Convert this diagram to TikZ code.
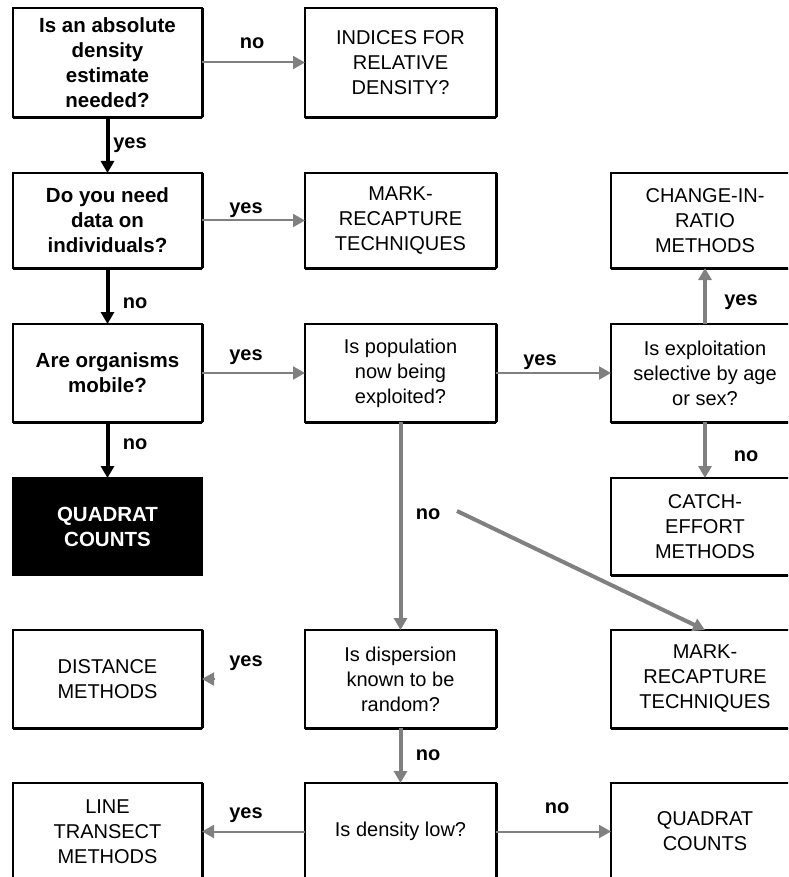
\documentclass[tikz,border=0pt]{standalone}
\usepackage{fontspec}
\setmainfont{Liberation Sans}
\usepackage{xcolor}
\usetikzlibrary{arrows.meta, positioning}
\definecolor{linegray}{RGB}{128,128,128}

\begin{document}
\begin{tikzpicture}[x=1pt, y=-1pt, >={Triangle[length=12pt, width=13pt]}]
    \tikzstyle{box} = [draw, line width=1.5pt, outer sep=0pt, inner sep=0pt, minimum height=97pt, minimum width=189pt, text centered, align=center, font=\fontsize{20}{25}\selectfont]
    \tikzstyle{question} = [box, font=\fontsize{20.5}{25}\selectfont\bfseries]
    \tikzstyle{method} = [box]
    \tikzstyle{answer} = [inner sep=0pt, font=\fontsize{20}{20}\selectfont\bfseries]
    \tikzstyle{blackarrow} = [->, line width=4pt, black]
    \tikzstyle{grayarrow} = [->, line width=2pt, linegray]
    \tikzstyle{thickgray} = [->, line width=4pt, linegray]

    \useasboundingbox (0,0) rectangle (788,877);
    \clip (0,0) rectangle (788,877);

    % first column
    \node [question, minimum height=109pt] at (107.5,62.5) (absolute) {Is an absolute\\density\\estimate\\needed?};
    \node [question, minimum height=95pt] at (107.5,220.5) (individuals) {Do you need\\data on\\individuals?};
    \node [question, minimum height=98pt] at (107.5,373) (mobile) {Are organisms\\mobile?};
    \node [question, fill=black, text=white] at (107.5,526.5) (quadrat) {QUADRAT\\COUNTS};
    \node [method, minimum height=98pt] at (107.5,679) (distance) {DISTANCE\\METHODS};
    \node [method] at (107.5,831.5) (transect) {LINE\\TRANSECT\\METHODS};

    % second column
    \node [method, minimum width=191pt, minimum height=109pt] at (400.5,62.5) (indices) {INDICES FOR\\RELATIVE\\DENSITY?};
    \node [method, minimum width=191pt, minimum height=95pt] at (400.5,220.5) (markone) {MARK-\\RECAPTURE\\TECHNIQUES};
    \node [method, minimum width=191pt, minimum height=98pt] at (400.5,373) (exploited) {Is population\\now being\\exploited?};
    \node [method, minimum width=191pt, minimum height=98pt] at (400.5,679) (random) {Is dispersion\\known to be\\random?};
    \node [method, minimum width=191pt] at (400.5,831.5) (low) {Is density low?};

    % third column
    \node [method, minimum width=188pt, minimum height=95pt] at (705,220.5) (ratio) {CHANGE-IN-\\RATIO\\METHODS};
    \node [method, minimum width=188pt, minimum height=98pt] at (705,373) (selective) {Is exploitation\\selective by age\\or sex?};
    \node [method, minimum width=188pt] at (705,526.5) (effort) {CATCH-\\EFFORT\\METHODS};
    \node [method, minimum width=188pt, minimum height=98pt] at (705,679) (marktwo) {MARK-\\RECAPTURE\\TECHNIQUES};
    \node [method, minimum width=188pt] at (705,831.5) (quadrattwo) {QUADRAT\\COUNTS};

    % heavier bottom and right edges
    \foreach \n in {absolute, individuals, mobile, distance, transect, indices, markone, exploited, random, low, ratio, selective, effort, marktwo, quadrattwo}
        \draw [line width=4pt] ([yshift=-1pt]\n.south west) -- ([yshift=-1pt]\n.south east)
              [line width=2.5pt] ([xshift=0.5pt]\n.south east) -- ([xshift=0.5pt]\n.north east);

    \draw [blackarrow] (absolute) -- (individuals);
    \draw [blackarrow] (individuals) -- (mobile);
    \draw [blackarrow] (mobile) -- (quadrat);
    \draw [grayarrow] (absolute) -- (indices);
    \draw [grayarrow] (individuals) -- (markone);
    \draw [grayarrow] (mobile) -- (exploited);
    \draw [grayarrow] (exploited) -- (selective);
    \draw [thickgray] (selective) -- (ratio);
    \draw [thickgray] (selective) -- (effort);
    \draw [thickgray] (exploited) -- (random);
    \draw [thickgray] (random) -- (low);
    \draw [grayarrow] (low) -- (transect);
    \draw [grayarrow] (low) -- (quadrattwo);
    \coordinate (diagstart) at (457,511);
    \draw [thickgray] (diagstart) -- (marktwo.north);
    \coordinate (yesstub) at (215,679);
    \draw [grayarrow] (yesstub) -- (distance);

    % answers
    \node [answer] at (252,43) (noindices) {no};
    \node [answer] at (130,145) (yesabsolute) {yes};
    \node [answer] at (246,210) (yesmark) {yes};
    \node [answer] at (135,303) (noindividuals) {no};
    \node [answer] at (246,357) (yesmobile) {yes};
    \node [answer] at (135,444) (nomobile) {no};
    \node [answer] at (540,362) (yesexploited) {yes};
    \node [answer] at (741,302) (yesselective) {yes};
    \node [answer] at (746,456) (noselective) {no};
    \node [answer] at (428,514) (noexploited) {no};
    \node [answer] at (246,663) (yesrandom) {yes};
    \node [answer] at (428,755) (norandom) {no};
    \node [answer] at (246,815) (yeslow) {yes};
    \node [answer] at (557,808) (nolow) {no};
\end{tikzpicture}
\end{document}
